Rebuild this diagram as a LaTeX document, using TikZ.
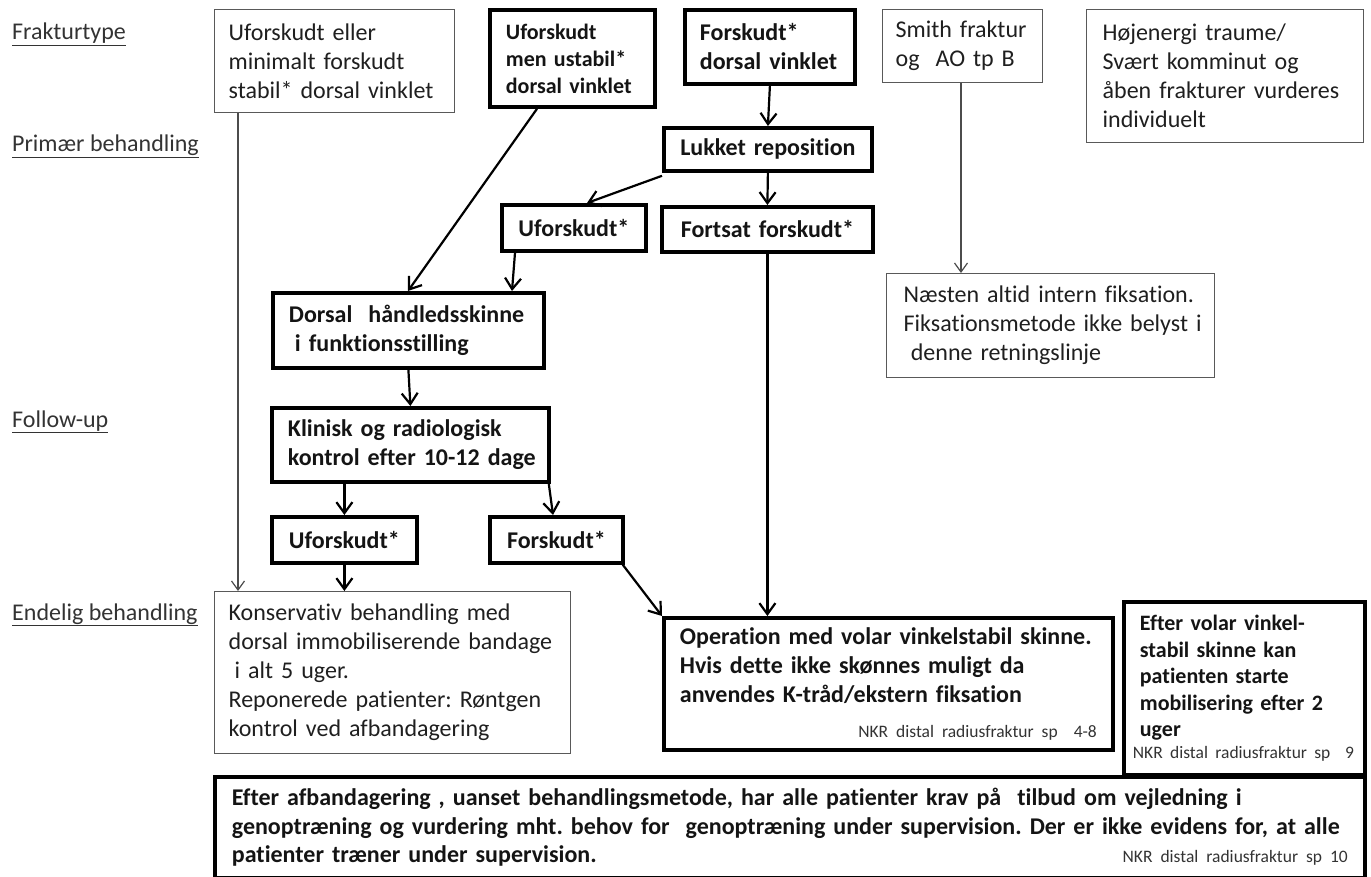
\documentclass[tikz,border=0pt]{standalone}
\usepackage{fontspec}
\setmainfont{Carlito}[Ligatures={NoCommon}]
\usetikzlibrary{arrows.meta}
\frenchspacing
\begin{document}
\begin{tikzpicture}[x=1pt,y=-1pt,
  thinbox/.style={draw=black!65, line width=1.3pt, anchor=north west, align=left, inner xsep=15pt, inner ysep=0pt, font=\fontsize{24}{29}\selectfont, text=black!88},
  thickbox/.style={draw=black, line width=3.8pt, anchor=north west, align=left, inner xsep=16pt, inner ysep=0pt, font=\bfseries\fontsize{24}{29}\selectfont, text=black!92},
  lab/.style={anchor=base west, font=\fontsize{24}{29}\selectfont, text=black!80, inner sep=0pt},
  arr/.style={line width=2.2pt, -{Straight Barb[length=11pt,width=16pt]}},
  tarr/.style={line width=1.2pt, draw=black!70, -{Straight Barb[length=9pt,width=13pt]}},
]
\newcommand{\nkr}[1]{\mbox{\mdseries\fontsize{17.5}{20}\selectfont\color{black!80}#1}}
\newcommand{\lne}[1]{\mbox{#1}}
\useasboundingbox (0,0) rectangle (1371,877);

% row labels
\node[lab] (l1) at (12,40) {\underline{Frakturtype}};
\node[lab] (l2) at (12,152) {\underline{Primær behandling}};
\node[lab] (l3) at (12,427) {\underline{Follow-up}};
\node[lab] (l4) at (12,620) {\underline{Endelig behandling}};

% boxes
\node[thinbox, inner xsep=14pt, text width=212pt, minimum height=103pt] (A) at (214,9)
  {\lne{Uforskudt eller}\\\lne{minimalt forskudt}\\\lne{stabil* dorsal vinklet}};
\node[thickbox, font=\bfseries\fontsize{22}{27}\selectfont, text width=133pt, minimum height=97pt] (B) at (488,8)
  {\lne{Uforskudt}\\\lne{men ustabil*}\\\lne{dorsal vinklet}};
\node[thickbox, inner xsep=15pt, text width=140pt, minimum height=74pt] (C) at (683,8)
  {\lne{Forskudt*}\\\lne{dorsal vinklet}};
\node[thickbox, align=center, text width=178pt, inner xsep=15pt, minimum height=43pt] (D) at (662,126)
  {\lne{Lukket reposition}};
\node[thickbox, align=center, text width=120pt, inner xsep=12pt, minimum height=46pt] (E) at (500,203)
  {\lne{Uforskudt*}};
\node[thickbox, align=center, text width=185pt, inner xsep=13pt, minimum height=45pt] (F) at (660,205)
  {\lne{Fortsat forskudt*}};
\node[thinbox, inner xsep=13pt, text width=134pt, minimum height=73pt] (G) at (882,9)
  {\lne{Smith fraktur}\\\lne{og\ \ AO tp B}};
\node[thinbox, inner xsep=16pt, text width=245pt, minimum height=133pt] (H) at (1086,9)
  {\lne{Højenergi traume/}\\\lne{Svært komminut og}\\\lne{åben frakturer vurderes}\\\lne{individuelt}};
\node[thinbox, inner xsep=17pt, text width=294pt, minimum height=104pt] (I) at (886,273)
  {\lne{Næsten altid intern fiksation.}\\\lne{Fiksationsmetode ikke belyst i}\\\lne{\hspace*{0.3em}denne retningslinje}};
\node[thickbox, text width=239pt, minimum height=75pt] (J) at (271,291)
  {\lne{Dorsal\ \ håndledsskinne}\\\lne{\hspace*{0.25em}i funktionsstilling}};
\node[thickbox, text width=245pt, minimum height=74pt] (K) at (270,406)
  {\lne{Klinisk og radiologisk}\\\lne{kontrol efter 10-12 dage}};
\node[thickbox, align=center, text width=121pt, inner xsep=12pt, minimum height=46pt] (L) at (270,515)
  {\lne{Uforskudt*}};
\node[thickbox, align=center, text width=109pt, inner xsep=12pt, minimum height=46pt] (M) at (488,515)
  {\lne{Forskudt*}};
\node[thinbox, inner xsep=14pt, text width=328pt, minimum height=162pt] (N) at (214,591)
  {\lne{Konservativ behandling med}\\\lne{dorsal immobiliserende bandage}\\\lne{\hspace*{0.25em}i alt 5 uger.}\\\lne{Reponerede patienter: Røntgen}\\\lne{kontrol ved afbandagering}};
\node[thickbox, text width=417pt, minimum height=132pt] (O) at (662,616)
  {\lne{Operation med volar vinkelstabil skinne.}\\\lne{Hvis dette ikke skønnes muligt da}\\\lne{anvendes K-tråd/ekstern fiksation}\\[6pt]
   \hfill\nkr{NKR distal radiusfraktur sp\ \ 4-8}};
\node[thickbox, font=\bfseries\fontsize{22}{26.5}\selectfont, text width=209pt, minimum height=173pt] (P) at (1122,600)
  {\lne{Efter volar vinkel-}\\\lne{stabil skinne kan}\\\lne{patienten starte}\\\lne{mobilisering efter 2}\\\lne{uger}\\[-5pt]
   \hspace*{-7pt}\nkr{NKR distal radiusfraktur sp\ \ 9}};
\node[thickbox, inner xsep=17pt, font=\bfseries\fontsize{24}{28.5}\selectfont, text width=1116pt, minimum height=101pt] (Q) at (213,775)
  {\lne{Efter afbandagering , uanset behandlingsmetode, har alle patienter krav på\ \ tilbud om vejledning i}\\
   \lne{genoptræning og vurdering mht. behov for\ \ genoptræning under supervision. Der er ikke evidens for, at alle}\\
   \lne{patienter træner under supervision.}\hfill\nkr{NKR distal radiusfraktur sp 10}};

% connectors
\draw[tarr] ([xshift=24]A.south west) -- ([xshift=24]N.north west);
\draw[arr] ([xshift=49]B.south west) -- ([xshift=137]J.north west);
\draw[arr] (C.south) -- (D.north);
\draw[arr] (D.south) -- (F.north);
\draw[arr] ([yshift=-3]D.south west) -- ([xshift=87]E.north west);
\draw[arr] ([xshift=15]E.south west) -- ([xshift=241]J.north west);
\draw[arr] (F.south) -- (F.south |- O.north);
\draw[arr] (J.south) -- (K.north);
\draw[arr] (L.north |- K.south) -- (L.north);
\draw[arr] ([xshift=-2]K.south east) -- ([xshift=65]M.north west);
\draw[arr] (L.south) -- (L.south |- N.north);
\draw[arr] ([xshift=-2]M.south east) -- (O.north west);
\draw[tarr] ([xshift=79]G.south west) -- ([xshift=79]G.south west |- I.north);
\end{tikzpicture}
\end{document}
